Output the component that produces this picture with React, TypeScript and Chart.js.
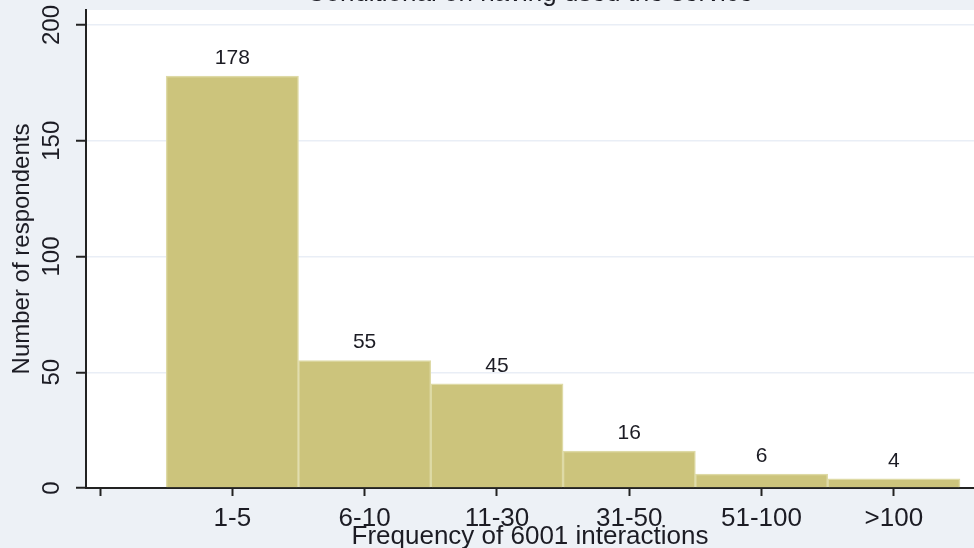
import React, { useEffect, useRef } from 'react';
import { Chart, registerables } from 'chart.js';

Chart.register(...registerables);

const categories = ['1-5', '6-10', '11-30', '31-50', '51-100', '>100'];
const respondents = [178, 55, 45, 16, 6, 4];
const yTicks = [0, 50, 100, 150, 200];
const xTickValues = [0, 1, 2, 3, 4, 5, 6];
const chartTitle = 'Conditional on having used the service';
const xTitle = 'Frequency of 6001 interactions';
const yTitle = 'Number of respondents';

const FONT = "'Liberation Sans', Arial, sans-serif";
const TEXT = '#1c1c24';
const BG = '#EDF1F6';

export default function App() {
  const ref = useRef<HTMLCanvasElement>(null);

  useEffect(() => {
    if (!ref.current) return;

    const plotBg = {
      id: 'plotBg',
      beforeDraw(chart: any) {
        const { ctx, chartArea: a } = chart;
        ctx.save();
        ctx.fillStyle = '#ffffff';
        ctx.fillRect(a.left, a.top, a.right - a.left, a.bottom - a.top);
        ctx.restore();
      },
    };

    const yLabels = {
      id: 'yLabels',
      afterDraw(chart: any) {
        const { ctx } = chart;
        const s = chart.scales.y;
        ctx.save();
        ctx.font = `24px ${FONT}`;
        ctx.fillStyle = TEXT;
        ctx.textAlign = 'center';
        ctx.textBaseline = 'middle';
        for (const v of yTicks) {
          const py = s.getPixelForValue(v);
          ctx.save();
          ctx.translate(s.right - 34, py);
          ctx.rotate(-Math.PI / 2);
          ctx.fillText(String(v), 0, 0);
          ctx.restore();
        }
        ctx.restore();
      },
    };

    const barLabels = {
      id: 'barLabels',
      afterDatasetsDraw(chart: any) {
        const { ctx } = chart;
        const meta = chart.getDatasetMeta(0);
        ctx.save();
        ctx.font = `21px ${FONT}`;
        ctx.fillStyle = TEXT;
        ctx.textAlign = 'center';
        ctx.textBaseline = 'middle';
        meta.data.forEach((el: any, i: number) => {
          ctx.fillText(String(respondents[i]), el.x, el.y - 18);
        });
        ctx.restore();
      },
    };

    const chart = new Chart(ref.current, {
      type: 'bar',
      data: {
        datasets: [
          {
            data: respondents.map((v, i) => ({ x: i + 1, y: v })),
            backgroundColor: '#CCC47C',
            borderColor: '#DEDAA6',
            borderWidth: 1.5,
            barPercentage: 1,
            categoryPercentage: 1,
          },
        ],
      },
      options: {
        responsive: false,
        animation: false,
        layout: { padding: 0 },
        plugins: {
          legend: { display: false },
          tooltip: { enabled: false },
          title: {
            display: true,
            text: chartTitle,
            fullSize: false,
            color: TEXT,
            font: { family: FONT, size: 26, weight: 'normal', lineHeight: 1.2 },
            padding: { top: -22.0, bottom: 0.8 },
          },
        },
        scales: {
          x: {
            type: 'linear',
            min: -0.106,
            max: 6.606,
            offset: false,
            afterBuildTicks: (s: any) => {
              s.ticks = xTickValues.map((v) => ({ value: v }));
            },
            afterFit: (s: any) => {
              s.height = 60;
            },
            ticks: {
              autoSkip: false,
              maxRotation: 0,
              minRotation: 0,
              padding: 7,
              color: TEXT,
              font: { family: FONT, size: 26 },
              callback: (v: any) => (v >= 1 ? categories[v - 1] : ''),
            },
            grid: {
              offset: false,
              drawOnChartArea: false,
              drawTicks: true,
              tickLength: 8,
              tickColor: '#222',
              tickWidth: 2,
            },
            border: { display: true, color: '#222', width: 2 },
            title: {
              display: true,
              text: xTitle,
              color: TEXT,
              font: { family: FONT, size: 26, lineHeight: 0.85 },
              padding: 0,
            },
          },
          y: {
            type: 'linear',
            min: 0,
            max: 206.5,
            afterBuildTicks: (s: any) => {
              s.ticks = yTicks.map((v) => ({ value: v }));
            },
            afterFit: (s: any) => {
              s.width = 86;
            },
            ticks: { display: false },
            grid: {
              color: (c: any) => (c.tick && c.tick.value === 0 ? 'rgba(0,0,0,0)' : '#E9EEF6'),
              lineWidth: 1.5,
              drawTicks: true,
              tickLength: 10,
              tickColor: '#222',
              tickWidth: 2,
            },
            border: { display: true, color: '#222', width: 2 },
            title: {
              display: true,
              text: yTitle,
              color: TEXT,
              font: { family: FONT, size: 24 },
              padding: { top: 7.6, bottom: 0 },
            },
          },
        },
      },
      plugins: [plotBg, yLabels, barLabels],
    } as any);

    return () => chart.destroy();
  }, []);

  return (
    <div style={{ position: 'absolute', left: 0, top: 0, width: 974, height: 548, background: BG }}>
      <canvas ref={ref} width={974} height={548} style={{ display: 'block' }} />
    </div>
  );
}
